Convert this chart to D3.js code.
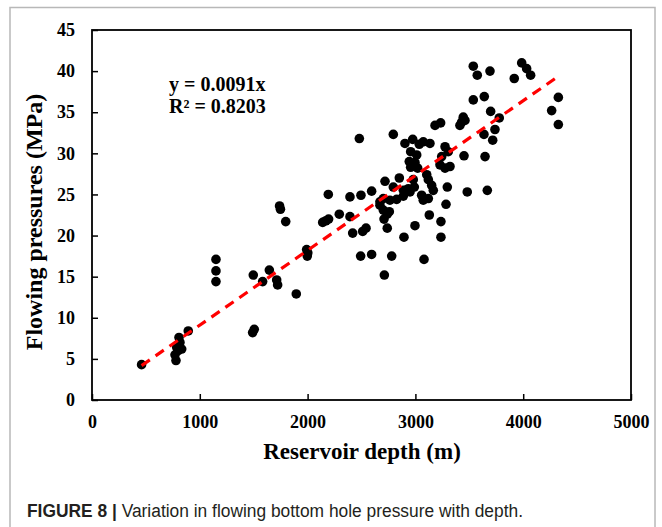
<!DOCTYPE html>
<html>
<head>
<meta charset="utf-8">
<script src="https://cdn.jsdelivr.net/npm/d3@7"></script>
<style>
  body { margin: 0; background: #fff; }
  svg text { font-family: "Liberation Serif", "Times New Roman", serif; font-weight: bold; fill: #000; }
</style>
</head>
<body>
<div id="chart"></div>
<script>
// depth (m) and flowing pressure (MPa)
const depths = [
  460, 770, 779, 786, 800, 807, 816, 832, 893,
  1150, 1150, 1150, 1490, 1505, 1496, 1583, 1645, 1713, 1722,
  1740, 1748, 1797, 1895, 1991, 1997, 2002,
  2140, 2170, 2195, 2192, 2294, 2393, 2393, 2418, 2511, 2542, 2492, 2594,
  2480, 2495, 2594, 2671, 2671, 2702, 2739, 2709, 2739, 2758, 2702, 2764,
  2712, 2780, 2718, 2795, 2851, 2795, 2894, 2996, 3080, 3129, 3237, 3237, 3284,
  2826, 2888, 2888, 2934, 2950, 2990, 2980, 2956, 3021, 2943, 2996, 2956, 3012,
  2903, 2975, 3036, 3073, 3135, 3275, 3305, 3244, 3228, 3275, 3321,
  3105, 3120, 3151, 3166, 3120, 3058, 3073, 3296,
  3182, 3234, 3413, 3444, 3429, 3460, 3451, 3481, 3646, 3667,
  3537, 3574, 3692, 3986, 4032, 4069, 3917, 3537, 3639,
  3698, 3778, 3738, 3636, 3717, 4326, 4264, 4326
];
const pressures = [
  4.3, 5.5, 4.8, 6.4, 6.0, 7.6, 7.0, 6.2, 8.4,
  17.1, 15.7, 14.4, 8.2, 8.6, 15.2, 14.4, 15.8, 14.6, 14.0,
  23.6, 23.2, 21.7, 12.9, 18.3, 17.5, 17.9,
  21.6, 21.8, 22.0, 25.0, 22.6, 22.3, 24.7, 20.3, 20.5, 20.9, 17.5, 17.7,
  31.8, 24.9, 25.4, 24.1, 23.7, 23.1, 22.6, 22.0, 20.9, 22.9, 24.5, 24.3,
  15.2, 17.5, 26.6, 25.9, 27.0, 32.3, 19.8, 21.2, 17.1, 22.5, 21.7, 19.8, 23.8,
  24.4, 24.8, 25.5, 25.7, 25.3, 25.9, 26.8, 28.3, 28.2, 29.0, 28.9, 30.2, 29.8,
  31.2, 31.7, 31.1, 31.4, 31.2, 30.8, 30.2, 29.6, 28.6, 28.2, 28.4,
  27.4, 26.8, 26.1, 25.5, 24.5, 24.9, 24.3, 25.9,
  33.4, 33.7, 33.4, 34.4, 33.8, 34.0, 29.7, 25.3, 29.6, 25.5,
  40.6, 39.5, 40.0, 41.0, 40.3, 39.5, 39.1, 36.5, 36.9,
  35.1, 34.3, 32.9, 32.3, 31.6, 36.8, 35.2, 33.5
];
const xTicks = [0, 1000, 2000, 3000, 4000, 5000];
const yTicks = [0, 5, 10, 15, 20, 25, 30, 35, 40, 45];
const slope = 0.0091;
const fitRange = [460, 4330];
const fitLabels = ["y = 0.0091x", "R² = 0.8203"];

const W = 662, H = 527;
const svg = d3.select("#chart").append("svg")
  .attr("width", W).attr("height", H);

// outer figure frame
svg.append("rect").attr("x", 10).attr("y", 7.5).attr("width", 645).attr("height", 540)
  .attr("fill", "none").attr("stroke", "#b8b8b8").attr("stroke-width", 1.5);

const x = d3.scaleLinear().domain([0, 5000]).range([92, 631]);
const y = d3.scaleLinear().domain([0, 45]).range([400, 30]);

const xAxis = svg.append("g").attr("transform", "translate(0,400)")
  .call(d3.axisBottom(x).tickValues(xTicks).tickFormat(d3.format("d"))
    .tickSize(-6).tickPadding(15));
const yAxis = svg.append("g").attr("transform", "translate(92,0)")
  .call(d3.axisLeft(y).tickValues(yTicks).tickSize(-6).tickPadding(17));
for (const g of [xAxis, yAxis]) {
  g.select(".domain").remove();
  g.selectAll("line").attr("stroke", "#000").attr("stroke-width", 1.5);
  g.selectAll("text").style("font-size", "18px")
    .style("font-family", "'Liberation Serif', serif").style("font-weight", "bold");
}

// plot box
svg.append("rect").attr("x", x(0)).attr("y", y(45))
  .attr("width", x(5000) - x(0)).attr("height", y(0) - y(45))
  .attr("fill", "none").attr("stroke", "#000").attr("stroke-width", 1.8);

// points
svg.append("g").selectAll("circle")
  .data(depths.map((d, i) => [d, pressures[i]]))
  .join("circle")
    .attr("cx", d => x(d[0]))
    .attr("cy", d => y(d[1]))
    .attr("r", 4.8)
    .attr("fill", "#000");

// linear fit
svg.append("line")
  .attr("x1", x(fitRange[0])).attr("y1", y(slope * fitRange[0]))
  .attr("x2", x(fitRange[1])).attr("y2", y(slope * fitRange[1]))
  .attr("stroke", "#ff0000").attr("stroke-width", 3.2)
  .attr("stroke-dasharray", "10,7");

svg.append("g").selectAll("text").data(fitLabels).join("text")
  .attr("x", 169).attr("y", (d, i) => 91 + i * 22)
  .style("font-size", "20px")
  .text(d => d);

// axis titles
svg.append("text").attr("x", 362).attr("y", 459).attr("text-anchor", "middle")
  .style("font-size", "23px").text("Reservoir depth (m)");
svg.append("text").attr("transform", "translate(42,222) rotate(-90)")
  .attr("text-anchor", "middle").style("font-size", "24px")
  .text("Flowing pressures (MPa)");

// caption
const cap = svg.append("text").attr("x", 27).attr("y", 517)
  .attr("textLength", 496).attr("lengthAdjust", "spacingAndGlyphs")
  .style("font-family", "'Liberation Sans Narrow', 'Liberation Sans', Arial, sans-serif")
  .style("font-weight", "normal").style("font-size", "18px").style("fill", "#231f20");
cap.append("tspan").style("font-weight", "bold").text("FIGURE 8 | ");
cap.append("tspan").text("Variation in flowing bottom hole pressure with depth.");
</script>
</body>
</html>
